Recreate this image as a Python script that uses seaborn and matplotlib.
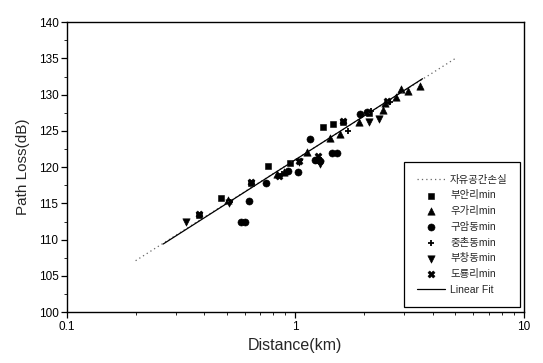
import numpy as np
import pandas as pd
import matplotlib
matplotlib.use("Agg")
import matplotlib.pyplot as plt
import seaborn as sns
from matplotlib.ticker import LogLocator, FixedLocator, NullFormatter, MultipleLocator

sns.set_style("ticks")
plt.rcParams['font.family'] = ['Liberation Sans', 'Noto Sans CJK KR', 'DejaVu Sans']

# ---- data ----
fs_dist = [0.2, 5.07]
fs_loss = [107.1, 135.1]

fit_dist = [0.264, 3.6]
fit_loss = [109.4, 132.2]

buan_d = [0.378, 0.471, 0.637, 0.761, 0.95, 1.24, 1.32, 1.46, 1.62, 2.1]
buan_l = [113.4, 115.8, 117.8, 120.1, 120.6, 121.0, 125.6, 126.0, 126.2, 127.5]

uga_d = [0.506, 0.828, 0.89, 1.12, 1.41, 1.56, 1.9, 2.42, 2.46, 2.75, 2.89, 3.12, 3.5]
uga_l = [115.5, 119.0, 119.4, 122.1, 124.0, 124.6, 126.2, 127.9, 128.9, 129.7, 130.8, 130.5, 131.2]

guam_d = [0.58, 0.60, 0.628, 0.741, 0.93, 1.03, 1.16, 1.22, 1.28, 1.44, 1.52, 1.91, 2.05]
guam_l = [112.5, 112.5, 115.4, 117.8, 119.5, 119.4, 123.9, 121.0, 120.8, 122.0, 122.0, 127.3, 127.6]

jung_d = [0.52, 0.87, 1.27, 1.7, 2.15, 2.6]
jung_l = [115.2, 119.1, 121.3, 125.0, 127.8, 129.0]

buch_d = [0.331, 0.51, 1.04, 1.28, 2.10, 2.33]
buch_l = [112.4, 115.0, 120.7, 120.5, 126.2, 126.6]

doryong_d = [0.378, 0.64, 0.847, 1.04, 1.25, 1.62, 2.52]
doryong_l = [113.6, 117.9, 118.8, 120.9, 121.5, 126.3, 129.1]

series_names = ["부안리min", "우가리min", "구암동min", "중촌동min", "부창동min", "도룡리min"]
series_d = [buan_d, uga_d, guam_d, jung_d, buch_d, doryong_d]
series_l = [buan_l, uga_l, guam_l, jung_l, buch_l, doryong_l]
markers = ["s", "^", "o", "+", "v", "X"]
sizes = [24, 28, 26, 24, 28, 26]

x_ticks = [0.1, 1, 10]
x_ticklabels = ["0.1", "1", "10"]
y_ticks = [100, 105, 110, 115, 120, 125, 130, 135, 140]

# ---- figure ----
fig = plt.figure(figsize=(5.43, 3.63), dpi=100)
ax = fig.add_axes([0.123, 0.140, 0.842, 0.799])

sns.lineplot(x=fs_dist, y=fs_loss, ax=ax, color="#666666", linestyle=(0, (1, 2.5)),
             linewidth=0.9, label="자유공간손실", legend=False)
sns.lineplot(x=fit_dist, y=fit_loss, ax=ax, color="black", linewidth=0.9,
             label="Linear Fit", legend=False)

for name, d, l, m, s in zip(series_names, series_d, series_l, markers, sizes):
    kw = dict(color="black", edgecolor="black")
    if m == "+":
        kw = dict(color="black", linewidth=1.3)
    sns.scatterplot(x=d, y=l, ax=ax, marker=m, s=s, label=name, legend=False, **kw)

ax.set_xscale("log")
ax.set_xlim(0.1, 10)
ax.set_ylim(100, 140)
ax.xaxis.set_major_locator(FixedLocator(x_ticks))
ax.set_xticklabels(x_ticklabels)
ax.xaxis.set_minor_locator(LogLocator(base=10, subs=np.arange(2, 10)))
ax.xaxis.set_minor_formatter(NullFormatter())
ax.set_yticks(y_ticks)
ax.yaxis.set_minor_locator(MultipleLocator(2.5))

for sp in ax.spines.values():
    sp.set_visible(True)
    sp.set_color("black")
    sp.set_linewidth(1.0)

ax.tick_params(axis="both", which="major", direction="out", length=4, width=0.9,
               labelsize=8.5, colors="black", pad=2)
ax.tick_params(axis="both", which="minor", direction="out", length=2, width=0.7)

ax.set_xlabel("Distance(km)", fontsize=11.5, labelpad=4)
ax.set_ylabel("Path Loss(dB)", fontsize=11, labelpad=6)

handles, labels = ax.get_legend_handles_labels()
order = ["자유공간손실"] + series_names + ["Linear Fit"]
hmap = dict(zip(labels, handles))
leg = ax.legend([hmap[k] for k in order], order, loc="lower right",
                bbox_to_anchor=(0.992, 0.017), fontsize=7.5, frameon=True,
                fancybox=False, edgecolor="black", framealpha=1,
                handlelength=2.7, labelspacing=0.55, borderpad=1.2,
                handletextpad=0.5, borderaxespad=0.0)
leg.get_frame().set_linewidth(0.9)

fig.savefig("out.png", dpi=100)
